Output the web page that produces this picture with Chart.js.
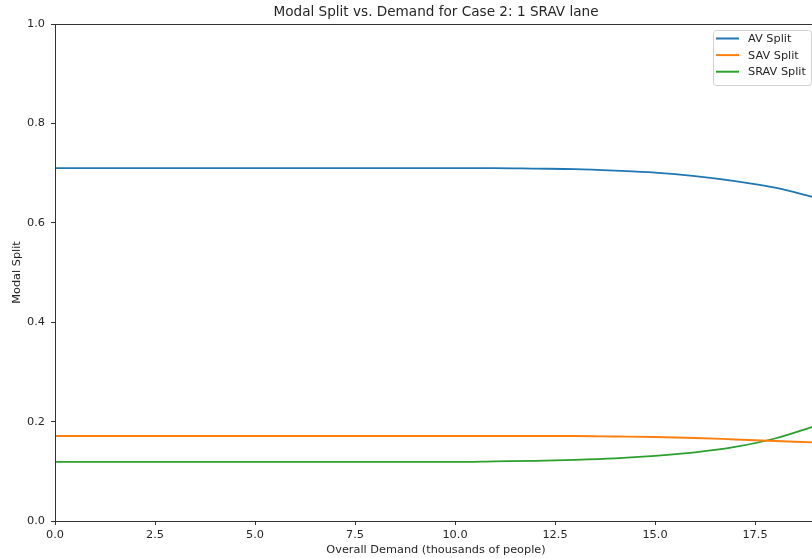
<!DOCTYPE html>
<html>
<head>
<meta charset="utf-8">
<script src="https://cdn.jsdelivr.net/npm/chart.js@4/dist/chart.umd.min.js"></script>
<style>
  html, body { margin: 0; padding: 0; background: #fff; overflow: hidden; }
  #wrap { position: relative; width: 830px; height: 558px; }
</style>
</head>
<body>
<div id="wrap"><canvas id="chart"></canvas></div>
<script>
// demand in thousands of people
const demand = [0, 1, 2, 3, 4, 5, 6, 7, 8, 9, 10, 11, 12, 13, 14, 15, 16, 17, 18, 19];

const avSplit = [0.710, 0.710, 0.710, 0.710, 0.710, 0.710, 0.710, 0.710, 0.710, 0.710,
  0.710, 0.710, 0.709, 0.708, 0.705, 0.701, 0.694, 0.684, 0.671, 0.651];
const savSplit = [0.171, 0.171, 0.171, 0.171, 0.171, 0.171, 0.171, 0.171, 0.171, 0.171,
  0.171, 0.171, 0.171, 0.171, 0.170, 0.169, 0.167, 0.164, 0.161, 0.158];
const sravSplit = [0.119, 0.119, 0.119, 0.119, 0.119, 0.119, 0.119, 0.119, 0.119, 0.119,
  0.119, 0.120, 0.121, 0.123, 0.126, 0.131, 0.138, 0.149, 0.166, 0.191];

const xTicks = [0, 2.5, 5, 7.5, 10, 12.5, 15, 17.5];
const yTicks = [0, 0.2, 0.4, 0.6, 0.8, 1.0];

const seriesNames = ["AV Split", "SAV Split", "SRAV Split"];
const seriesColors = ["#1f77b4", "#ff7f0e", "#2ca02c"];
const seriesValues = [avSplit, savSplit, sravSplit];
const chartTitle = "Modal Split vs. Demand for Case 2: 1 SRAV lane";

const font = "'DejaVu Sans', sans-serif";
const textColor = "#262626";
const fs = 11.3;

function toPoints(vals) {
  return vals.map((v, i) => ({ x: demand[i], y: v }));
}

// title over the axes, box around the plot, legend inside the axes (matplotlib look)
const framePlugin = {
  id: "frame",
  afterDraw(chart) {
    const ctx = chart.ctx;
    const a = chart.chartArea;
    ctx.save();
    ctx.strokeStyle = "#333";
    ctx.lineWidth = 1;
    ctx.strokeRect(a.left + 0.5, a.top + 0.5, a.right - a.left, a.bottom - a.top);

    ctx.fillStyle = textColor;
    ctx.font = "13.6px " + font;
    ctx.textAlign = "center";
    ctx.textBaseline = "middle";
    ctx.fillText(chartTitle, (a.left + a.right) / 2, 12.5);

    // legend
    const bx = 713, by = 30, bw = 98, bh = 55;
    ctx.beginPath();
    ctx.roundRect(bx + 0.5, by + 0.5, bw, bh, 3);
    ctx.fillStyle = "rgba(255,255,255,0.8)";
    ctx.fill();
    ctx.strokeStyle = "#d0d0d0";
    ctx.stroke();

    ctx.font = fs + "px " + font;
    ctx.textAlign = "left";
    chart.data.datasets.forEach((ds, i) => {
      const y = 38.5 + i * 16.6;
      ctx.beginPath();
      ctx.moveTo(716, y);
      ctx.lineTo(739, y);
      ctx.strokeStyle = ds.borderColor;
      ctx.lineWidth = 2;
      ctx.stroke();
      ctx.fillStyle = textColor;
      ctx.fillText(ds.label, 748, y + 0.5);
    });
    ctx.restore();
  }
};

new Chart(document.getElementById("chart"), {
  type: "line",
  data: {
    datasets: seriesNames.map((name, i) => ({
      label: name,
      data: toPoints(seriesValues[i]),
      borderColor: seriesColors[i],
      backgroundColor: seriesColors[i],
      borderWidth: 1.8,
      pointRadius: 0,
      cubicInterpolationMode: "monotone",
      fill: false
    }))
  },
  options: {
    responsive: true,
    maintainAspectRatio: false,
    animation: false,
    layout: { padding: { left: 0, right: 13, top: 24, bottom: 0 } },
    plugins: {
      legend: { display: false },
      tooltip: { enabled: false },
      title: { display: false }
    },
    scales: {
      x: {
        type: "linear",
        min: 0,
        max: 19.05,
        afterBuildTicks: s => { s.ticks = xTicks.map(v => ({ value: v })); },
        afterFit: s => { s.height = 37; },
        grid: { drawOnChartArea: false, drawTicks: true, tickLength: 4, color: "#333" },
        border: { display: true, color: "#333" },
        ticks: {
          color: textColor,
          font: { family: font, size: fs },
          padding: 3,
          maxRotation: 0,
          callback: v => v.toFixed(1)
        },
        title: {
          display: true,
          text: "Overall Demand (thousands of people)",
          color: textColor,
          font: { family: font, size: fs },
          padding: { top: 0, bottom: 1.2 }
        }
      },
      y: {
        min: 0,
        max: 1,
        afterBuildTicks: s => { s.ticks = yTicks.map(v => ({ value: v })); },
        afterFit: s => { s.width = 55; },
        grid: { drawOnChartArea: false, drawTicks: true, tickLength: 4, color: "#333" },
        border: { display: true, color: "#333" },
        ticks: {
          color: textColor,
          font: { family: font, size: fs },
          padding: 6,
          callback: v => v.toFixed(1)
        },
        title: {
          display: true,
          text: "Modal Split",
          color: textColor,
          font: { family: font, size: fs },
          padding: { top: 10.2, bottom: 0 }
        }
      }
    }
  },
  plugins: [framePlugin]
});
</script>
</body>
</html>
